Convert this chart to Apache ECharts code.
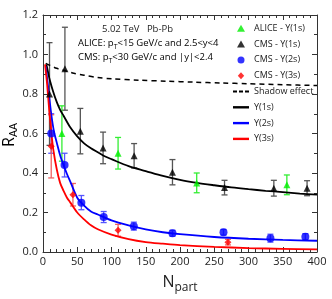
<!DOCTYPE html>
<html>
<head>
<meta charset="utf-8">
<script src="https://cdn.jsdelivr.net/npm/echarts@6/dist/echarts.min.js"></script>
<style>html,body{margin:0;padding:0;background:#fff}#c{width:332px;height:299px}</style>
</head>
<body>
<div id="c"></div>
<script>
// ---- data ----
const aliceN = [27.6, 109.6, 224.4, 356];
const aliceR = [0.60, 0.50, 0.35, 0.34];
const aliceErr = [0.14, 0.08, 0.05, 0.05];

const cms1N = [9.5, 32, 54.5, 87.7, 133, 189, 265, 337, 385.5];
const cms1R = [0.80, 0.928, 0.612, 0.527, 0.487, 0.404, 0.326, 0.323, 0.323];
const cms1Err = [0.26, 0.21, 0.115, 0.08, 0.062, 0.064, 0.037, 0.04, 0.038];

const cms2N = [12, 31.5, 56, 88.6, 132.6, 189, 263.5, 332, 383];
const cms2R = [0.60, 0.44, 0.25, 0.177, 0.131, 0.095, 0.10, 0.07, 0.077];
const cms2Err = [0.1, 0.06, 0.036, 0.028, 0.02, 0.015, 0.014, 0.02, 0.016];

const cms3N = [12, 43.7, 109.6, 270];
const cms3R = [0.535, 0.29, 0.11, 0.05];
const cms3Err = [0.16, 0.057, 0.03, 0.014];

const y1N = [5, 8, 10, 15, 20, 25, 30, 40, 50, 60, 70, 80, 90, 100, 125, 150, 175, 200, 225, 250, 275, 300, 325, 350, 375, 400];
const y1R = [0.95, 0.90, 0.87, 0.81, 0.76, 0.72, 0.69, 0.63, 0.585, 0.55, 0.525, 0.505, 0.485, 0.47, 0.435, 0.41, 0.385, 0.365, 0.35, 0.338, 0.327, 0.318, 0.31, 0.303, 0.296, 0.29];

const y2N = [4, 8, 12, 16, 20, 25, 30, 35, 40, 50, 60, 70, 80, 100, 125, 150, 175, 200, 250, 300, 350, 400];
const y2R = [0.94, 0.82, 0.70, 0.61, 0.555, 0.49, 0.44, 0.395, 0.355, 0.275, 0.235, 0.205, 0.19, 0.16, 0.135, 0.115, 0.10, 0.09, 0.076, 0.067, 0.061, 0.057];

const y3N = [3, 6, 9, 12, 15, 20, 25, 30, 35, 40, 50, 60, 70, 80, 100, 125, 150, 175, 200, 250, 300, 350, 400];
const y3R = [0.95, 0.85, 0.72, 0.61, 0.52, 0.42, 0.35, 0.31, 0.275, 0.25, 0.20, 0.165, 0.135, 0.115, 0.088, 0.065, 0.05, 0.042, 0.035, 0.026, 0.02, 0.016, 0.013];

const shadowN = [4, 10, 20, 30, 45, 60, 80, 100, 140, 180, 220, 260, 300, 350, 400];
const shadowR = [0.955, 0.945, 0.93, 0.92, 0.905, 0.895, 0.883, 0.877, 0.87, 0.865, 0.86, 0.856, 0.852, 0.847, 0.843];

const xTicks = [0, 50, 100, 150, 200, 250, 300, 350, 400];
const yTicks = [0.0, 0.2, 0.4, 0.6, 0.8, 1.0, 1.2];

const legendNames = ['ALICE - Υ(1s)', 'CMS - Υ(1s)', 'CMS - Υ(2s)', 'CMS - Υ(3s)', 'Shadow effect', 'Υ(1s)', 'Υ(2s)', 'Υ(3s)'];

// ---- helpers ----
const pts = (xs, ys) => xs.map((x, i) => [x, ys[i]]);
const errPts = (xs, ys, es) => xs.map((x, i) => [x, ys[i], es[i]]);
const FONT = 'Open Sans';

function errSeries(data, color, width) {
  return {
    type: 'custom', data: data, z: 2, silent: true,
    renderItem: function (params, api) {
      const x = api.value(0), y = api.value(1), e = api.value(2);
      const t = api.coord([x, y + e]), b = api.coord([x, y - e]);
      const w = 3;
      const st = { stroke: color, lineWidth: width };
      return { type: 'group', children: [
        { type: 'line', shape: { x1: t[0], y1: t[1], x2: b[0], y2: b[1] }, style: st },
        { type: 'line', shape: { x1: t[0] - w, y1: t[1], x2: t[0] + w, y2: t[1] }, style: st },
        { type: 'line', shape: { x1: b[0] - w, y1: b[1], x2: b[0] + w, y2: b[1] }, style: st }
      ]};
    }
  };
}

const axisLineStyle = { show: true, onZero: false, lineStyle: { color: '#333', width: 1 } };
function xAx(pos, labels) {
  return {
    type: 'value', position: pos, min: 0, max: 400, interval: 50,
    axisLine: axisLineStyle,
    axisTick: { show: true, inside: true, length: 5, lineStyle: { color: '#333' } },
    minorTick: { show: true, splitNumber: 5, length: 3, lineStyle: { color: '#333' } },
    splitLine: { show: false },
    axisLabel: { show: labels, fontFamily: FONT, fontSize: 11, color: '#222', margin: 4,
      formatter: v => (xTicks.indexOf(v) >= 0 ? String(v) : '') },
    name: labels ? '{n|N}{s|part}' : '',
    nameLocation: 'middle', nameGap: 22,
    nameTextStyle: { rich: {
      n: { fontFamily: FONT, fontSize: 16, color: '#222', lineHeight: 20, verticalAlign: 'top' },
      s: { fontFamily: FONT, fontSize: 12, color: '#222', lineHeight: 12, verticalAlign: 'bottom' }
    } }
  };
}
function yAx(pos, labels) {
  return {
    type: 'value', position: pos, min: 0, max: 1.2, interval: 0.2,
    axisLine: axisLineStyle,
    axisTick: { show: true, inside: true, length: 5, lineStyle: { color: '#333' } },
    minorTick: { show: true, splitNumber: 2, length: 3, lineStyle: { color: '#333' } },
    splitLine: { show: false },
    axisLabel: { show: labels, fontFamily: FONT, fontSize: 11, color: '#222', margin: 5,
      formatter: v => v.toFixed(1) }
  };
}

const subRich = {
  t: { fontFamily: FONT, fontSize: 9.5, color: '#222', lineHeight: 14 },
  s: { fontFamily: FONT, fontSize: 7, color: '#222', lineHeight: 7, verticalAlign: 'bottom' }
};
const nameRich = {
  n: { fontFamily: FONT, fontSize: 16, color: '#222', lineHeight: 20 },
  s: { fontFamily: FONT, fontSize: 11, color: '#222', lineHeight: 11, verticalAlign: 'bottom' }
};

const triIcon = 'path://M4,0L8,7L0,7Z';
const diaIcon = 'path://M3.2,0L6.4,3.5L3.2,7L0,3.5Z';
const lineIcon = 'path://M0,0H16V2.4H0Z';
const dashIcon = 'path://M0,0H4V2H0ZM6,0H10V2H6ZM12,0H16V2H12Z';
const legendIcons = [triIcon, triIcon, 'circle', diaIcon, dashIcon, lineIcon, lineIcon, lineIcon];

const chart = echarts.init(document.getElementById('c'), null, { renderer: 'canvas' });
chart.setOption({
  animation: false,
  backgroundColor: '#fff',
  grid: { left: 43, right: 15, top: 15, bottom: 41, containLabel: false },
  xAxis: [xAx('bottom', true), xAx('top', false)],
  yAxis: [yAx('left', true), yAx('right', false)],
  legend: {
    orient: 'vertical', left: 233, top: 22.3, padding: 0,
    itemWidth: 16, itemHeight: 7, itemGap: 3.8, symbolKeepAspect: true,
    textStyle: { fontFamily: FONT, fontSize: 9, color: '#222', lineHeight: 12 },
    data: legendNames.map((n, i) => ({ name: n, icon: legendIcons[i] }))
  },
  graphic: [
    { type: 'text', x: 102, y: 22, style: { text: '5.02 TeV   Pb-Pb', fontFamily: FONT, fontSize: 9.5, fill: '#222', lineHeight: 14, verticalAlign: 'top' } },
    { type: 'text', x: 78, y: 36.5, style: { text: '{t|ALICE: p}{s|T}{t|<15 GeV/c and 2.5<y<4}', rich: subRich, verticalAlign: 'top' } },
    { type: 'text', x: 78, y: 50.5, style: { text: '{t|CMS: p}{s|T}{t|<30 GeV/c and |y|<2.4}', rich: subRich, verticalAlign: 'top' } },
    { type: 'text', x: 9, y: 135, rotation: Math.PI / 2, style: { text: '{n|R}{s|AA}', rich: nameRich, align: 'center', verticalAlign: 'middle' } }
  ],
  series: [
    { name: legendNames[4], type: 'line', data: pts(shadowN, shadowR), symbol: 'none', smooth: 0.3,
      lineStyle: { color: '#000', width: 1.5, type: [5, 4] }, itemStyle: { color: '#000' }, z: 3 },
    { name: legendNames[5], type: 'line', data: pts(y1N, y1R), symbol: 'none', smooth: 0.3,
      lineStyle: { color: '#000', width: 1.8 }, itemStyle: { color: '#000' }, z: 3 },
    { name: legendNames[6], type: 'line', data: pts(y2N, y2R), symbol: 'none', smooth: 0.3,
      lineStyle: { color: '#0000ff', width: 1.8 }, itemStyle: { color: '#0000ff' }, z: 3 },
    { name: legendNames[7], type: 'line', data: pts(y3N, y3R), symbol: 'none', smooth: 0.3,
      lineStyle: { color: '#ff0000', width: 1.8 }, itemStyle: { color: '#ff0000' }, z: 3 },
    errSeries(errPts(cms1N, cms1R, cms1Err), '#555', 1.3),
    errSeries(errPts(aliceN, aliceR, aliceErr), '#33ee33', 1.3),
    errSeries(errPts(cms2N, cms2R, cms2Err), '#5555ff', 1.3),
    errSeries(errPts(cms3N, cms3R, cms3Err), '#f06060', 1.3),
    { name: legendNames[0], type: 'scatter', data: pts(aliceN, aliceR), symbol: 'triangle', symbolSize: 7,
      itemStyle: { color: '#00ee00' }, z: 5 },
    { name: legendNames[1], type: 'scatter', data: pts(cms1N, cms1R), symbol: 'triangle', symbolSize: 7,
      itemStyle: { color: '#000' }, z: 5 },
    { name: legendNames[2], type: 'scatter', data: pts(cms2N, cms2R), symbol: 'circle', symbolSize: 8,
      itemStyle: { color: '#0000ff' }, z: 5 },
    { name: legendNames[3], type: 'scatter', data: pts(cms3N, cms3R), symbol: 'diamond', symbolSize: 7,
      itemStyle: { color: '#ff0000' }, z: 5 }
  ]
});
</script>
</body>
</html>
